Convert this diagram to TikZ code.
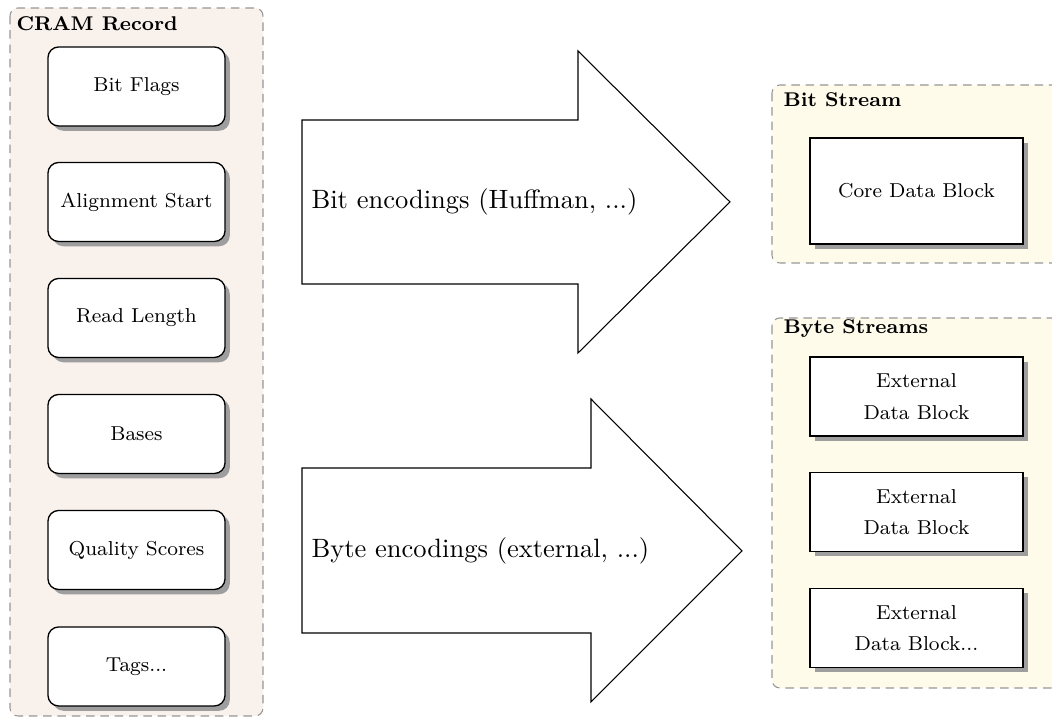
\documentclass[tikz,border=0pt]{standalone}
\usetikzlibrary{shadows}
\newcommand\pxu{0.3774pt}
\newcommand\nodefont{\fontsize{7.6}{9.3}\selectfont}
\newcommand\titlefont{\fontsize{7.5}{9}\selectfont\bfseries}
\definecolor{cramfill}{RGB}{248,241,236}
\definecolor{streamfill}{RGB}{254,251,235}
\definecolor{dashgray}{RGB}{150,150,150}
\definecolor{shadowgray}{RGB}{158,158,158}
\tikzset{
  group/.style={draw=dashgray, dash pattern=on 3.2pt off 2.2pt, rounded corners=3pt, line width=0.4pt},
  grouptitle/.style={font=\titlefont, anchor=base west, inner sep=0pt},
  recbox/.style={draw=black, fill=white, rounded corners=4pt, line width=0.5pt,
    minimum width=177*\pxu, minimum height=79*\pxu, font=\nodefont,
    drop shadow={shadow xshift=1.8pt, shadow yshift=-1.8pt, fill=shadowgray, opacity=1}},
  blockbox/.style={draw=black, fill=white, line width=0.5pt,
    minimum width=213*\pxu, font=\nodefont, align=center,
    drop shadow={shadow xshift=1.8pt, shadow yshift=-1.8pt, fill=shadowgray, opacity=1}},
  bigarrow/.style={draw=black, fill=white, line width=0.4pt},
  arrowtext/.style={anchor=west, inner sep=0pt},
}
\begin{document}
\begin{tikzpicture}[x=\pxu, y=-\pxu]
\useasboundingbox (0,0) rectangle (1052,724);

% containers
\draw[group, fill=cramfill] (10,8) rectangle (263,716);
\node[grouptitle] (tcram) at (16,31) {CRAM Record};

\draw[group, fill=streamfill] (772,85) rectangle (1075,263);
\node[grouptitle] (tbit) at (783,107) {Bit Stream};

\draw[group, fill=streamfill] (772,318) rectangle (1075,688);
\node[grouptitle] (tbyte) at (783,334) {Byte Streams};

% record fields
\node[recbox] (bf) at (136.5,86.5) {Bit Flags};
\node[recbox] (as) at (136.5,202) {Alignment Start};
\node[recbox] (rl) at (136.5,318) {Read Length};
\node[recbox] (ba) at (136.5,434) {Bases};
\node[recbox] (qs) at (136.5,550) {Quality Scores};
\node[recbox] (tg) at (136.5,666.5) {Tags...};

% blocks
\node[blockbox, minimum height=106*\pxu] (core) at (916.5,191) {Core Data Block};
\node[blockbox, minimum height=79*\pxu] (ext1) at (916.5,396.5) {External\\[2.6pt]Data Block};
\node[blockbox, minimum height=79*\pxu] (ext2) at (916.5,512) {External\\[2.6pt]Data Block};
\node[blockbox, minimum height=79*\pxu] (ext3) at (916.5,628) {External\\[2.6pt]Data Block...};

% big arrows
\draw[bigarrow] (302,120) -- (578,120) -- (578,51) -- (730,202) -- (578,353) -- (578,284) -- (302,284) -- cycle;
\node[arrowtext] (bitenc) at (311,202) {Bit encodings (Huffman, ...)};

\draw[bigarrow] (302,468) -- (591,468) -- (591,399) -- (742,551) -- (591,702) -- (591,633) -- (302,633) -- cycle;
\node[arrowtext] (byteenc) at (311,551) {Byte encodings (external, ...)};
\end{tikzpicture}
\end{document}
